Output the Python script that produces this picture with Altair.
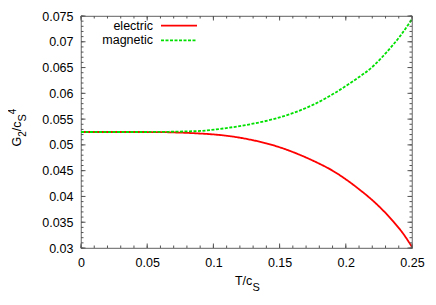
import altair as alt
import pandas as pd

# ---- data ----
series_names = ["electric", "magnetic"]
series_colors = ["#ff0000", "#00e000"]

T_electric = [0, 0.02, 0.04, 0.06, 0.07, 0.08, 0.09, 0.1, 0.115, 0.13, 0.14, 0.155,
              0.165, 0.178, 0.19, 0.2007, 0.21, 0.2208, 0.23, 0.236, 0.243, 0.25]
G_electric = [0.0525, 0.0525, 0.0525, 0.05248, 0.05242, 0.05233, 0.0522, 0.05203, 0.0516,
              0.0509, 0.0503, 0.0491, 0.0481, 0.0466, 0.0450, 0.0432, 0.0414, 0.0391,
              0.0368, 0.0351, 0.0329, 0.0302]

T_magnetic = [0, 0.02, 0.04, 0.06, 0.07, 0.08, 0.09, 0.105, 0.1276, 0.1453, 0.1604,
              0.1755, 0.1906, 0.2057, 0.2208, 0.2309, 0.241, 0.25]
G_magnetic = [0.0525, 0.0525, 0.0525, 0.05252, 0.05256, 0.05262, 0.0527, 0.0531, 0.0540,
              0.0550, 0.0562, 0.0578, 0.0599, 0.0624, 0.0653, 0.0680, 0.0711, 0.0744]

x_major = [0, 0.05, 0.1, 0.15, 0.2, 0.25]
y_major = [0.03, 0.035, 0.04, 0.045, 0.05, 0.055, 0.06, 0.065, 0.07, 0.075]
x_minor = [round(i * 0.01, 3) for i in range(26)]
y_minor = [round(0.03 + i * 0.001, 4) for i in range(46)]

W, H = 331, 232
FONT = "Liberation Sans"
FS = 12.5

df = pd.concat([
    pd.DataFrame({"T": T_electric, "G": G_electric, "series": series_names[0]}),
    pd.DataFrame({"T": T_magnetic, "G": G_magnetic, "series": series_names[1]}),
])

xs = alt.Scale(domain=[0, 0.25], nice=False, zero=False)
ys = alt.Scale(domain=[0.03, 0.075], nice=False, zero=False)

xaxis = alt.Axis(values=x_major, format="~g", ticks=False, tickSize=0, domain=False,
                 grid=False, title=None, labelPadding=8, labelFont=FONT, labelFlush=False,
                 labelFontSize=FS, labelColor="black")
yaxis = alt.Axis(values=y_major, format="~g", ticks=False, tickSize=0, domain=False,
                 grid=False, title=None, labelPadding=8, labelFont=FONT, labelFlush=False,
                 labelFontSize=FS, labelColor="black")

lines = alt.Chart(df).mark_line(interpolate="monotone", strokeWidth=1.8, clip=True).encode(
    x=alt.X("T:Q", scale=xs, axis=xaxis),
    y=alt.Y("G:Q", scale=ys, axis=yaxis),
    color=alt.Color("series:N", scale=alt.Scale(domain=series_names, range=series_colors), legend=None),
    strokeDash=alt.StrokeDash("series:N", scale=alt.Scale(domain=series_names, range=[[1, 0], [3, 1.5]]), legend=None),
)

TICK = "#555555"
xmaj = pd.DataFrame({"v": x_major})
xmin = pd.DataFrame({"v": x_minor})
ymaj = pd.DataFrame({"v": y_major})
ymin = pd.DataFrame({"v": y_minor})

def xticks(d, L):
    bot = alt.Chart(d).mark_rule(color=TICK, strokeWidth=1).encode(
        x=alt.X("v:Q", scale=xs, axis=xaxis), y=alt.value(H), y2=alt.value(H - L))
    top = alt.Chart(d).mark_rule(color=TICK, strokeWidth=1).encode(
        x=alt.X("v:Q", scale=xs, axis=xaxis), y=alt.value(0), y2=alt.value(L))
    return [bot, top]

def yticks(d, L):
    left = alt.Chart(d).mark_rule(color=TICK, strokeWidth=1).encode(
        y=alt.Y("v:Q", scale=ys, axis=yaxis), x=alt.value(0), x2=alt.value(L))
    right = alt.Chart(d).mark_rule(color=TICK, strokeWidth=1).encode(
        y=alt.Y("v:Q", scale=ys, axis=yaxis), x=alt.value(W), x2=alt.value(W - L))
    return [left, right]

ticks = xticks(xmaj, 4.5) + xticks(xmin, 2.5) + yticks(ymaj, 4.5) + yticks(ymin, 2.5)

one = pd.DataFrame({"a": [0]})

# legend (gnuplot style: label then line sample)
legend_layers = []
dashes = [[1, 0], [3, 1.5]]
for i, name in enumerate(series_names):
    yy = 9.7 + i * 14.6
    legend_layers.append(alt.Chart(one).mark_text(
        align="right", baseline="middle", font=FONT, fontSize=FS, color="black").encode(
        x=alt.value(72), y=alt.value(yy), text=alt.value(name)))
    legend_layers.append(alt.Chart(one).mark_rule(
        color=series_colors[i], strokeWidth=1.8, strokeDash=dashes[i]).encode(
        x=alt.value(80), x2=alt.value(116), y=alt.value(yy)))

def txt(s, x, y, size, angle=0, align="left"):
    return alt.Chart(one).mark_text(align=align, baseline="alphabetic", font=FONT,
                                     fontSize=size, angle=angle, color="black").encode(
        x=alt.value(x), y=alt.value(y), text=alt.value(s))

# x-axis title T/c_S
title_layers = [
    txt("T/c", 171.3, 269, FS, align="right"),
    txt("S", 171.5, 274.7, 11),
]
# y-axis title G_2/c_S^4, rotated
bx = -60
title_layers += [
    txt("G", bx, 130.5, FS, angle=270),
    txt("2", bx + 4.5, 120.8, 10, angle=270),
    txt("/c", bx, 115.2, FS, angle=270),
    txt("S", bx + 4.5, 105.5, 11, angle=270),
    txt("4", bx - 5, 98.2, 10, angle=270),
]

chart = alt.layer(lines, *ticks, *legend_layers, *title_layers).properties(
    width=W, height=H,
    autosize=alt.AutoSizeParams(type="none"),
    padding={"left": 73, "top": 8, "right": 16, "bottom": 49},
).configure_view(stroke="#808080", strokeWidth=1.2)

chart.save("out.html", embed_options={"renderer": "svg", "actions": False})
